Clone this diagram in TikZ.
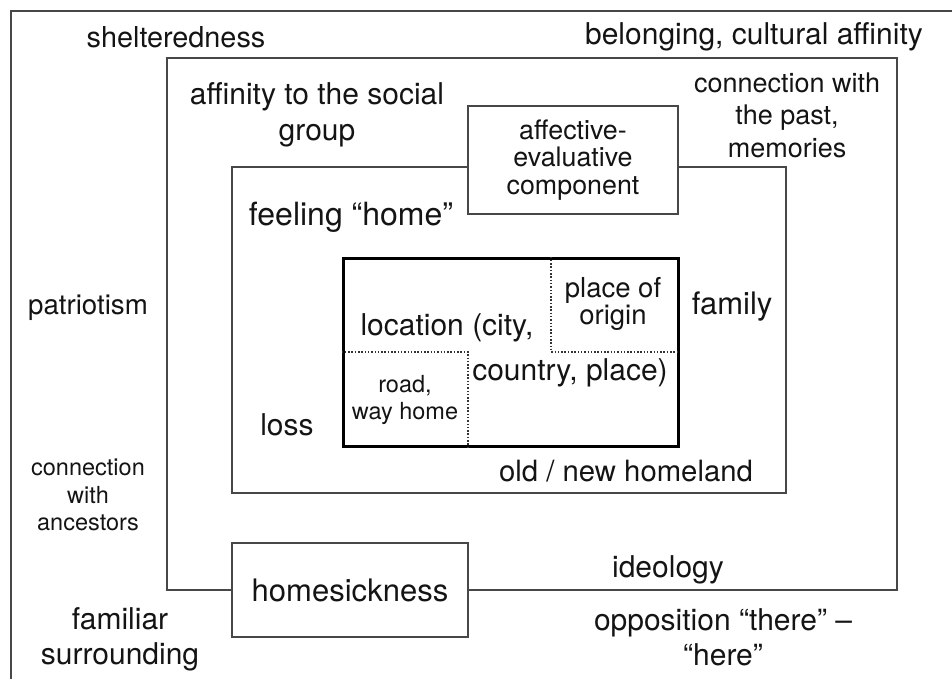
\documentclass[tikz,border=0pt]{standalone}
\usepackage{fontspec}
\setmainfont{TeX Gyre Heros}
\usepackage{tikz}
\usetikzlibrary{positioning}

\begin{document}
\begin{tikzpicture}[x=1pt, y=-1pt,
    frame/.style={draw=black!72, line width=1.6pt},
    box/.style={frame, fill=white, inner sep=0pt},
    big/.style={font=\fontsize{30}{36}\selectfont, align=center, text=black!92},
    mid/.style={font=\fontsize{27}{33}\selectfont, align=center, text=black!92},
    small/.style={font=\fontsize{23.5}{27.5}\selectfont, align=center, text=black!92},
    cut/.style={draw=black!80, line width=1.5pt, dash pattern=on 1.5pt off 1.8pt}]
    % 画布
    \useasboundingbox (0,0) rectangle (952,679);
    
    % 外框
    \coordinate (outerBL) at (11,679);
    \coordinate (outerTL) at (11,11);
    \coordinate (outerTR) at (952,11);
    \draw[frame] (outerBL) -- (outerTL) -- (outerTR);
    
    % 中框与内框
    \node[frame, inner sep=0pt, minimum width=730, minimum height=532] (ring) at (532,324) {};
    \node[frame, inner sep=0pt, minimum width=554, minimum height=326] (feel) at (509,330) {};
    
    % 核心框
    \node[draw=black, line width=3pt, inner sep=0pt, minimum width=335, minimum height=188] (core) at (510.5,352) {};
    \coordinate (cutA) at (551,352);
    \coordinate (cutB) at (468,352);
    \draw[cut] (cutA |- core.north) -- (cutA) -- (cutA -| core.east);
    \draw[cut] (cutB -| core.west) -- (cutB) -- (cutB |- core.south);
    
    % 两个白底框
    \node[box, align=center, text=black!92, font=\fontsize{26.8}{27.5}\selectfont,
          minimum width=210, minimum height=108] (affect) at (573,160) {affective-\\evaluative\\component};
    \node[box, font=\fontsize{31}{36}\selectfont, text=black!92,
          minimum width=236, minimum height=94] (sick) at (350,590) {homesickness};
    
    % 外层标签
    \node[big, font=\fontsize{28.8}{34}\selectfont] (shelter) at (176,37) {shelteredness};
    \node[big] (belong) at (754,37) {belonging, cultural affinity};
    \node[mid, font=\fontsize{27.7}{33}\selectfont] (patriot) at (88,308) {patriotism};
    \node[small] (ancest) at (88,495) {connection\\with\\ancestors};
    \node[big, font=\fontsize{30}{35}\selectfont] (familiar) at (120,639) {familiar\\surrounding};
    \node[big, font=\fontsize{30}{35}\selectfont] (oppos) at (723,637) {opposition “there” –\\“here”};
    
    % 中层标签
    \node[big] (social) at (317,115) {affinity to the social\\group};
    \node[mid, font=\fontsize{27}{32.5}\selectfont] (past) at (787,115) {connection with\\the past,\\memories};
    \node[big] (ideol) at (668,570) {ideology};
    
    % 内层标签
    \node[big, font=\fontsize{32}{36}\selectfont] (feelhome) at (351,217) {feeling “home”};
    \node[big, font=\fontsize{31}{36}\selectfont] (family) at (732,307) {family};
    \node[big] (loss) at (287,425) {loss};
    \node[big, font=\fontsize{29.3}{35}\selectfont] (homeland) at (626,471) {old / new homeland};
    
    % 核心标签
    \node[big] (locA) at (447,328) {location (city,};
    \node[big] (locB) at (570,373) {country, place)};
    \node[mid, font=\fontsize{27.5}{25}\selectfont] (origin) at (613,304) {place of\\origin};
    \node[small, font=\fontsize{23.5}{27}\selectfont] (road) at (405,400) {road,\\way home};
\end{tikzpicture}
\end{document}
